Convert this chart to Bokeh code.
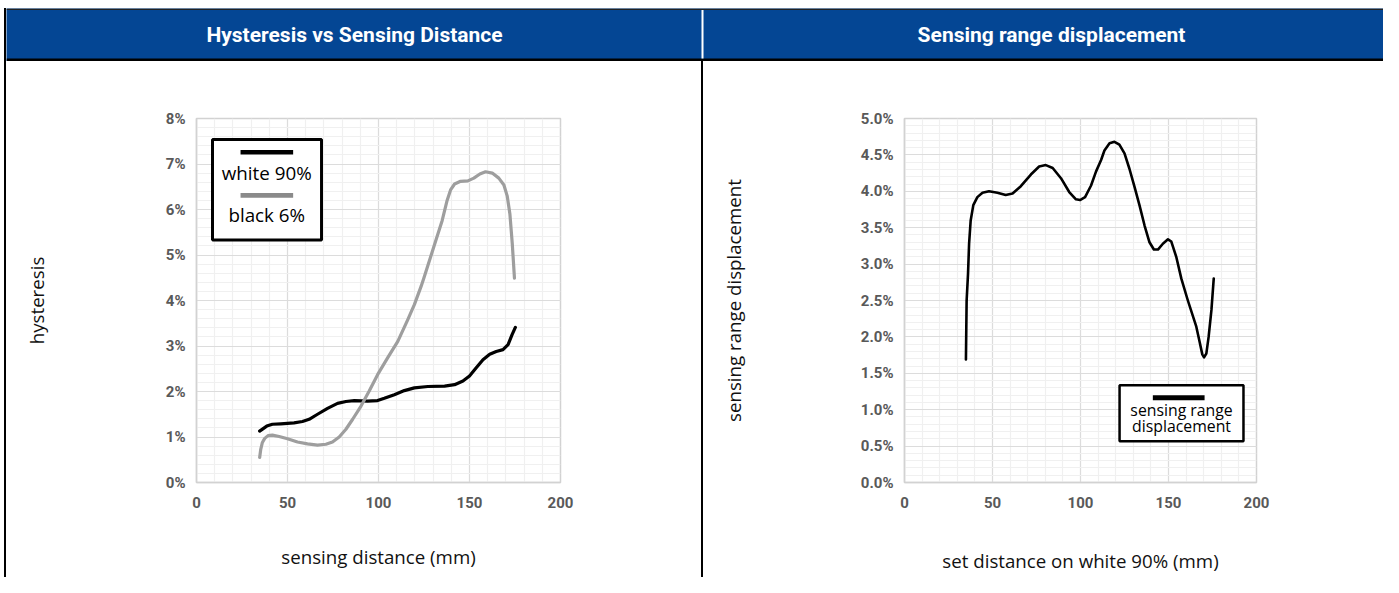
from bokeh.plotting import figure
from bokeh.models import Range1d, FixedTicker, BoxAnnotation, Label, Div
from bokeh.layouts import row, column
from bokeh.embed import file_html
from bokeh.resources import INLINE

# ---------------- data ----------------
left_title = "Hysteresis vs Sensing Distance"
right_title = "Sensing range displacement"

x_ticks = [0, 50, 100, 150, 200]
x_labels = ["0", "50", "100", "150", "200"]

left_y_ticks = [0, 1, 2, 3, 4, 5, 6, 7, 8]
left_y_labels = ["0%", "1%", "2%", "3%", "4%", "5%", "6%", "7%", "8%"]

right_y_ticks = [0.0, 0.5, 1.0, 1.5, 2.0, 2.5, 3.0, 3.5, 4.0, 4.5, 5.0]
right_y_labels = ["0.0%", "0.5%", "1.0%", "1.5%", "2.0%", "2.5%", "3.0%", "3.5%", "4.0%", "4.5%", "5.0%"]

# hysteresis, white 90% target (%)
white90_x = [34.7, 38.6, 41.7, 46.3, 53.6, 58.2, 61.9, 66.5, 72.0, 77.5, 82.1, 86.7, 94.0, 99.5,
             103.2, 108.7, 114.2, 119.7, 127.1, 136.3, 141.8, 146.4, 150.0, 153.7, 157.4, 161.1,
             164.7, 168.4, 171.2, 173.4, 175.2]
white90_y = [1.13, 1.24, 1.28, 1.29, 1.31, 1.34, 1.39, 1.50, 1.63, 1.74, 1.78, 1.80, 1.79, 1.80,
             1.85, 1.93, 2.02, 2.08, 2.11, 2.12, 2.15, 2.23, 2.34, 2.52, 2.70, 2.82,
             2.88, 2.92, 3.03, 3.25, 3.41]

# hysteresis, black 6% target (%)
black6_x = [34.7, 35.3, 36.2, 37.5, 39.3, 41.7, 45.4, 50.0, 55.5, 61.0, 66.5, 71.1, 74.7, 78.4,
            82.1, 85.8, 90.4, 94.9, 99.5, 105.0, 110.6, 116.1, 119.7, 123.4, 124.9, 130.4,
            135.0, 137.7, 139.6, 141.8, 145.1, 149.1, 152.4, 155.7, 158.8, 162.5, 166.1,
            168.9, 170.7, 172.2, 173.5, 174.7]
black6_y = [0.55, 0.73, 0.88, 0.97, 1.03, 1.04, 1.01, 0.96, 0.89, 0.85, 0.82, 0.84, 0.89, 1.00,
            1.17, 1.39, 1.68, 2.01, 2.37, 2.74, 3.10, 3.58, 3.91, 4.31, 4.49, 5.18,
            5.76, 6.20, 6.43, 6.56, 6.62, 6.63, 6.69, 6.78, 6.83, 6.80, 6.69,
            6.54, 6.30, 5.90, 5.25, 4.49]

# sensing range displacement (%)
disp_x = [34.9, 35.3, 36.1, 36.7, 37.6, 39.1, 41.4, 44.3, 48.0, 52.8, 57.5, 61.4, 66.1, 71.8,
          76.5, 80.3, 84.2, 88.9, 93.6, 97.4, 99.7, 102.6, 106.0, 108.8, 111.7, 113.6, 116.5,
          119.3, 122.1, 125.0, 127.8, 130.7, 133.5, 136.4, 139.2, 141.7, 144.0, 146.8, 149.7,
          151.6, 154.4, 157.3, 161.0, 165.8, 167.7, 169.2, 170.2, 171.5, 172.8, 174.4, 175.7]
disp_y = [1.69, 2.50, 2.87, 3.28, 3.60, 3.81, 3.92, 3.98, 4.00, 3.98, 3.95, 3.97, 4.07, 4.23,
          4.34, 4.36, 4.32, 4.18, 3.99, 3.89, 3.88, 3.92, 4.08, 4.27, 4.43, 4.56, 4.66,
          4.68, 4.64, 4.52, 4.31, 4.06, 3.81, 3.53, 3.30, 3.20, 3.20, 3.28, 3.34,
          3.31, 3.10, 2.80, 2.50, 2.14, 1.93, 1.76, 1.72, 1.77, 2.00, 2.37, 2.80]

# ---------------- style ----------------
BLUE = "#044694"
TICK_FONT = "Roboto"
TEXT_FONT = "Open Sans"
TICK_COLOR = "#595959"
GRID_MAJOR = "#dcdcdc"
GRID_MINOR = "#f0f0f0"
FRAME_COLOR = "#d2d2d2"
HEAD_H = 53
BODY_H = 516
HW = 1377


def make_panel(width, mleft, mright, mtop, mbottom, ymax, yticks, yminor, ylabels,
               xlabel, ylabel, xstand, ystand):
    p = figure(width=width, height=BODY_H, x_range=Range1d(0, 200), y_range=Range1d(0, ymax),
               output_backend="svg", toolbar_location=None,
               min_border_left=mleft, min_border_right=mright,
               min_border_top=mtop, min_border_bottom=mbottom,
               background_fill_color="white", border_fill_color="white")
    p.outline_line_color = FRAME_COLOR
    p.outline_line_width = 1.5
    p.xaxis.ticker = FixedTicker(ticks=x_ticks, minor_ticks=list(range(0, 201, 10)))
    p.yaxis.ticker = FixedTicker(ticks=yticks, minor_ticks=yminor)
    p.xaxis.major_label_overrides = dict(zip(x_ticks, x_labels))
    p.yaxis.major_label_overrides = dict(zip(yticks, ylabels))
    for ax in (p.xaxis, p.yaxis):
        ax.major_tick_line_color = None
        ax.minor_tick_line_color = None
        ax.axis_line_color = FRAME_COLOR
        ax.axis_line_width = 1.5
        ax.major_label_text_font = TICK_FONT
        ax.major_label_text_font_style = "bold"
        ax.major_label_text_font_size = "15px"
        ax.major_label_text_color = TICK_COLOR
        ax.axis_label_text_font = TEXT_FONT
        ax.axis_label_text_font_style = "normal"
        ax.axis_label_text_font_size = "18.7px"
        ax.axis_label_text_color = "#111111"
    p.xaxis.major_label_standoff = 8
    p.yaxis.major_label_standoff = 5
    p.xaxis.axis_label = xlabel
    p.yaxis.axis_label = ylabel
    p.xaxis.axis_label_standoff = xstand
    p.yaxis.axis_label_standoff = ystand
    for g in (p.xgrid, p.ygrid):
        g.grid_line_color = GRID_MAJOR
        g.grid_line_width = 1.2
        g.minor_grid_line_color = GRID_MINOR
        g.minor_grid_line_width = 1.2
    return p


def box(p, l, r, b, t, fill, line=None, lw=0):
    p.add_layout(BoxAnnotation(left=l, right=r, bottom=b, top=t, fill_color=fill, fill_alpha=1,
                               line_color=line, line_alpha=1, line_width=lw))


# ---------------- header ----------------
header = figure(width=HW, height=HEAD_H, x_range=Range1d(0, HW), y_range=Range1d(0, HEAD_H),
                output_backend="svg", toolbar_location=None, x_axis_type=None, y_axis_type=None,
                min_border=0, min_border_left=0, min_border_right=0, min_border_top=0,
                min_border_bottom=0, background_fill_color=BLUE, border_fill_color=BLUE)
header.outline_line_color = None
header.grid.visible = False
box(header, 0, HW, 0, 3, "black")
box(header, 0, HW, 51.5, HEAD_H, "#222222")
box(header, 695, 697, 3, 51.5, "white")
for tx, txt in ((348, left_title), (1045, right_title)):
    header.add_layout(Label(x=tx, y=27, text=txt, text_align="center", text_baseline="middle",
                            text_color="white", text_font=TICK_FONT, text_font_style="bold",
                            text_font_size="21px"))

# ---------------- left panel ----------------
left = make_panel(695, 190, 141, 56, BODY_H - 424, 8, left_y_ticks,
                  [round(v * 0.2, 1) for v in range(0, 41)], left_y_labels,
                  "sensing distance (mm)", "hysteresis", 33, 114)
left.line(white90_x, white90_y, line_color="black", line_width=3.2, line_join="round", line_cap="round")
left.line(black6_x, black6_y, line_color="#9e9e9e", line_width=3.2, line_join="round", line_cap="round")

box(left, 8.8, 68.7, 5.33, 7.54, "white", "black", 3)
box(left, 24.2, 53.1, 7.21, 7.31, "black")
box(left, 24.2, 53.1, 6.26, 6.36, "#8a8a8a")
left.add_layout(Label(x=38.6, y=6.81, text="white 90%", text_align="center", text_baseline="middle",
                      text_font=TEXT_FONT, text_font_size="18.8px", text_color="black"))
left.add_layout(Label(x=38.6, y=5.87, text="black 6%", text_align="center", text_baseline="middle",
                      text_font=TEXT_FONT, text_font_size="18.8px", text_color="black"))

# ---------------- right panel ----------------
right = make_panel(680, 201, 127, 57, BODY_H - 421, 5, right_y_ticks,
                   [round(v * 0.1, 1) for v in range(0, 51)], right_y_labels,
                   "set distance on white 90% (mm)", "sensing range displacement", 37, 112)
right.line(disp_x, disp_y, line_color="black", line_width=2.6, line_join="round", line_cap="round")

box(right, 122.2, 192.6, 0.566, 1.337, "white", "black", 2.5)
box(right, 141.1, 170.5, 1.13, 1.20, "black")
right.add_layout(Label(x=157.4, y=0.99, text="sensing range", text_align="center", text_baseline="middle",
                       text_font=TEXT_FONT, text_font_size="15.8px", text_color="black"))
right.add_layout(Label(x=157.4, y=0.775, text="displacement", text_align="center", text_baseline="middle",
                       text_font=TEXT_FONT, text_font_size="15.8px", text_color="black"))

# ---------------- layout ----------------
top_space = Div(width=6 + HW, height=8, margin=0)
left_space = Div(width=4, height=HEAD_H + BODY_H, margin=0)
left_border = Div(width=2, height=HEAD_H + BODY_H, margin=0, styles={"background-color": "black"})
divider = Div(width=2, height=BODY_H, margin=0, styles={"background-color": "black"})
body = row(left, divider, right, spacing=0)
page = column(top_space,
              row(left_space, left_border, column(header, body, spacing=0), spacing=0),
              spacing=0)

open("out.html", "w").write(file_html(page, INLINE))
